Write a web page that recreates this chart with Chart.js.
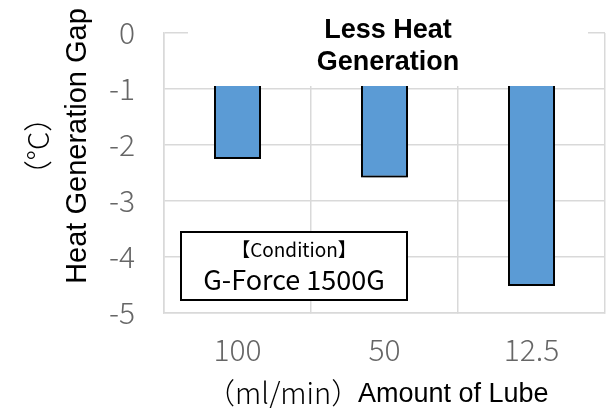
<!DOCTYPE html>
<html>
<head>
<meta charset="utf-8">
<script src="https://cdn.jsdelivr.net/npm/chart.js@4/dist/chart.umd.min.js"></script>
<style>
  html, body { margin: 0; padding: 0; background: #fff; }
  #wrap { width: 606px; height: 408px; position: relative; }
</style>
</head>
<body>
<div id="wrap"><canvas id="grafico"></canvas></div>
<script>
// dados
const categorias = ['100', '50', '12.5'];
const diferencaCalor = [-2.25, -2.58, -4.52];
const eixoYMin = -5;
const eixoYMax = 0;
const eixoYPasso = 1;

const tituloCaixa = ['Less Heat', 'Generation'];
const condicao = ['【Condition】', 'G-Force 1500G'];

const fonteJp = '"Noto Sans CJK JP", "Noto Sans", sans-serif';
const fonteArial = '"Liberation Sans", Arial, sans-serif';

// sombra das barras
const sombraBarras = {
    id: 'sombraBarras',
    beforeDatasetsDraw(chart) {
        const ctx = chart.ctx;
        ctx.save();
        ctx.shadowColor = 'rgba(0,0,0,0.4)';
        ctx.shadowBlur = 6;
        ctx.shadowOffsetX = 1;
        ctx.shadowOffsetY = 5;
    },
    afterDatasetsDraw(chart) {
        chart.ctx.restore();
    }
};

// caixas de texto e títulos dos eixos
const anotacoes = {
    id: 'anotacoes',
    afterDraw(chart) {
        const ctx = chart.ctx;
        ctx.save();

        // caixa do título (fundo branco cobre o topo)
        ctx.fillStyle = '#fff';
        ctx.fillRect(188, 10, 400, 76);
        ctx.fillStyle = '#000';
        ctx.font = 'bold 27px ' + fonteArial;
        ctx.textAlign = 'center';
        ctx.textBaseline = 'middle';
        ctx.fillText(tituloCaixa[0], 388, 31);
        ctx.fillText(tituloCaixa[1], 388, 63);

        // caixa de condição
        ctx.fillStyle = '#fff';
        ctx.fillRect(181, 232, 226, 68);
        ctx.strokeStyle = '#000';
        ctx.lineWidth = 2;
        ctx.strokeRect(181, 232, 226, 68);
        ctx.fillStyle = '#000';
        ctx.font = '19px ' + fonteJp;
        ctx.fillText(condicao[0], 294, 250);
        ctx.font = '27px ' + fonteJp;
        ctx.fillText(condicao[1], 294, 280);

        // título eixo X
        ctx.textAlign = 'left';
        ctx.font = '300 29px ' + fonteJp;
        ctx.fillText('（ml/min）', 206, 393);
        ctx.font = '27px ' + fonteArial;
        ctx.fillText('Amount of Lube', 358, 395);

        // título eixo Y (girado)
        ctx.translate(78, 146);
        ctx.rotate(-Math.PI / 2);
        ctx.textAlign = 'center';
        ctx.font = '29px ' + fonteArial;
        ctx.fillText('Heat Generation Gap', 0, 0);
        ctx.font = '300 29px ' + fonteJp;
        ctx.fillText('（°C）', 0, -40);

        ctx.restore();
    }
};

new Chart(document.getElementById('grafico'), {
    type: 'bar',
    data: {
        labels: categorias,
        datasets: [{
            data: diferencaCalor,
            backgroundColor: '#5b9bd5',
            borderColor: '#000',
            borderWidth: 2,
            borderSkipped: false,
            barPercentage: 0.32,
            categoryPercentage: 1
        }]
    },
    options: {
        responsive: true,
        maintainAspectRatio: false,
        animation: false,
        layout: { padding: { top: 33, right: 1, left: 0, bottom: 0 } },
        plugins: {
            legend: { display: false },
            tooltip: { enabled: false }
        },
        scales: {
            x: {
                afterFit: s => { s.height = 95; s.paddingLeft = 0; s.paddingRight = 0; },
                grid: { color: '#d9d9d9', lineWidth: 1.5, tickLength: 0 },
                border: { color: '#d9d9d9', width: 1.5 },
                ticks: { color: '#666666', padding: 19, font: { family: fonteJp, size: 30, weight: '300' } }
            },
            y: {
                min: eixoYMin,
                max: eixoYMax,
                afterFit: s => { s.width = 164; s.paddingTop = 0; s.paddingBottom = 0; },
                grid: { color: '#d9d9d9', lineWidth: 1.5, tickLength: 0 },
                border: { color: '#d9d9d9', width: 1.5 },
                ticks: {
                    stepSize: eixoYPasso,
                    color: '#666666',
                    padding: 29,
                    font: { family: fonteJp, size: 30, weight: '300' }
                }
            }
        }
    },
    plugins: [sombraBarras, anotacoes]
});
</script>
</body>
</html>
